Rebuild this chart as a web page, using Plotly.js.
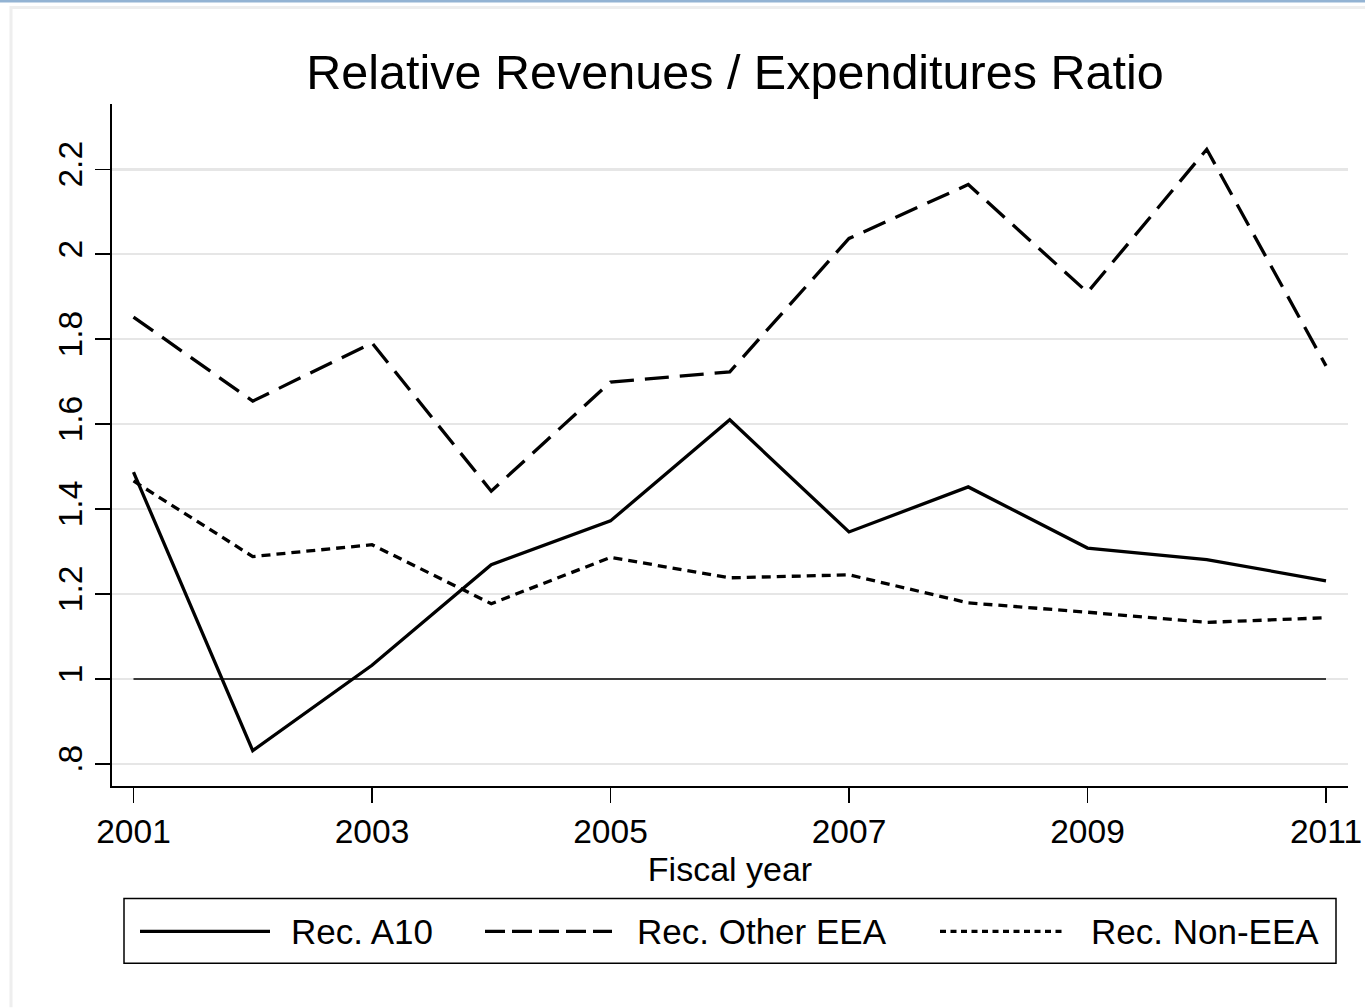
<!DOCTYPE html>
<html>
<head>
<meta charset="utf-8">
<script src="https://cdn.plot.ly/plotly-3.0.1.min.js"></script>
<style>
html,body{margin:0;padding:0;background:#fff;}
#chart{width:1365px;height:1008px;}
</style>
</head>
<body>
<div id="chart"></div>
<script>
// ---- data ----
const years = [2001, 2002, 2003, 2004, 2005, 2006, 2007, 2008, 2009, 2010, 2011];
const recA10 = [1.487, 0.831, 1.032, 1.269, 1.372, 1.610, 1.346, 1.452, 1.308, 1.281, 1.231];
const recOtherEEA = [1.852, 1.654, 1.791, 1.442, 1.699, 1.723, 2.037, 2.164, 1.910, 2.247, 1.737];
const recNonEEA = [1.466, 1.288, 1.316, 1.177, 1.286, 1.238, 1.245, 1.179, 1.157, 1.133, 1.144];
const referenceLevel = [1, 1, 1, 1, 1, 1, 1, 1, 1, 1, 1];
const seriesNames = ['Rec. A10', 'Rec. Other EEA', 'Rec. Non-EEA'];
const xTickVals = [2001, 2003, 2005, 2007, 2009, 2011];
const xTickText = ['2001', '2003', '2005', '2007', '2009', '2011'];
const yTickVals = [0.8, 1.0, 1.2, 1.4, 1.6, 1.8, 2.0, 2.2];
const yTickText = ['.8', '1', '1.2', '1.4', '1.6', '1.8', '2', '2.2'];

// ---- layout geometry (pixels) ----
const W = 1365, H = 1008;
const L = 112, R = 1348, T = 104, B = 786.5;
const pw = R - L, ph = B - T;
const px = x => (x - L) / pw;
const py = y => (B - y) / ph;

const FONT = 'Liberation Sans, Arial, Helvetica, sans-serif';
const dashStyles = ['solid', '24px,11px', '9px,6px'];
const legendDash = ['solid', '20px,7px', '6px,4.5px'];

const traces = [
  {x: years, y: referenceLevel, mode: 'lines', line: {color: '#000', width: 1.5}, showlegend: false, hoverinfo: 'skip'},
  {x: years, y: recA10, name: seriesNames[0], mode: 'lines', line: {color: '#000', width: 3.3, dash: dashStyles[0]}, showlegend: false},
  {x: years, y: recOtherEEA, name: seriesNames[1], mode: 'lines', line: {color: '#000', width: 3.3, dash: dashStyles[1]}, showlegend: false},
  {x: years, y: recNonEEA, name: seriesNames[2], mode: 'lines', line: {color: '#000', width: 3.3, dash: dashStyles[2]}, showlegend: false}
];

// custom legend
const legY = 932;
const legendSamples = [[140, 270], [485, 612], [940, 1065]];
const legendTextX = [289, 635, 1089];
const shapes = [
  // top blue line
  {type: 'rect', xref: 'paper', yref: 'paper', x0: px(0), x1: px(W), y0: py(2.5), y1: py(0), line: {width: 0}, fillcolor: '#93b3d3'},
  // light gray frame
  {type: 'line', xref: 'paper', yref: 'paper', x0: px(10), x1: px(W), y0: py(7.5), y1: py(7.5), line: {color: '#eeeeee', width: 3}},
  {type: 'line', xref: 'paper', yref: 'paper', x0: px(11), x1: px(11), y0: py(6), y1: py(H), line: {color: '#eeeeee', width: 3}},
  // legend box
  {type: 'rect', xref: 'paper', yref: 'paper', x0: px(124), x1: px(1336), y0: py(964), y1: py(899), line: {color: '#000', width: 1.5}, fillcolor: 'rgba(0,0,0,0)'}
];
const annotations = [];
for (let i = 0; i < 3; i++) {
  shapes.push({type: 'line', xref: 'paper', yref: 'paper', x0: px(legendSamples[i][0]), x1: px(legendSamples[i][1]), y0: py(legY), y1: py(legY), line: {color: '#000', width: 3.2, dash: legendDash[i]}});
  annotations.push({xref: 'paper', yref: 'paper', x: px(legendTextX[i]), y: py(legY), xanchor: 'left', yanchor: 'middle', text: seriesNames[i], showarrow: false, font: {family: FONT, size: 35, color: '#000'}});
}

const layout = {
  width: W, height: H,
  margin: {l: L, r: W - R, t: T, b: H - B, pad: 0},
  paper_bgcolor: '#fff', plot_bgcolor: '#fff',
  showlegend: false,
  title: {text: 'Relative Revenues / Expenditures Ratio', font: {family: FONT, size: 48.5, color: '#000'}, x: 735 / W, xanchor: 'center', y: 1 - 72 / H, yanchor: 'middle'},
  xaxis: {
    range: [2001 - 21.5 / 119.25, 2011 + 22 / 119.25],
    tickvals: xTickVals, ticktext: xTickText,
    ticks: 'outside', ticklen: 15, tickwidth: 1.5, tickcolor: '#000',
    showline: true, linecolor: '#000', linewidth: 2,
    showgrid: false, zeroline: false,
    tickfont: {family: FONT, size: 33.5, color: '#000'},
    title: {text: 'Fiscal year', font: {family: FONT, size: 34, color: '#000'}, standoff: 0}
  },
  yaxis: {
    range: [0.8 - 22.2 / 425, 2.2 + 65.3 / 425],
    tickvals: yTickVals, ticktext: yTickText,
    tickangle: -90,
    ticks: 'outside', ticklen: 15, tickwidth: 1.5, tickcolor: '#000',
    showline: true, linecolor: '#000', linewidth: 2,
    showgrid: true, gridcolor: '#e6e6e6', gridwidth: 2.5,
    zeroline: false,
    tickfont: {family: FONT, size: 33.5, color: '#000'}
  },
  shapes: shapes,
  annotations: annotations
};

Plotly.newPlot('chart', traces, layout, {displayModeBar: false, staticPlot: true});
</script>
</body>
</html>
